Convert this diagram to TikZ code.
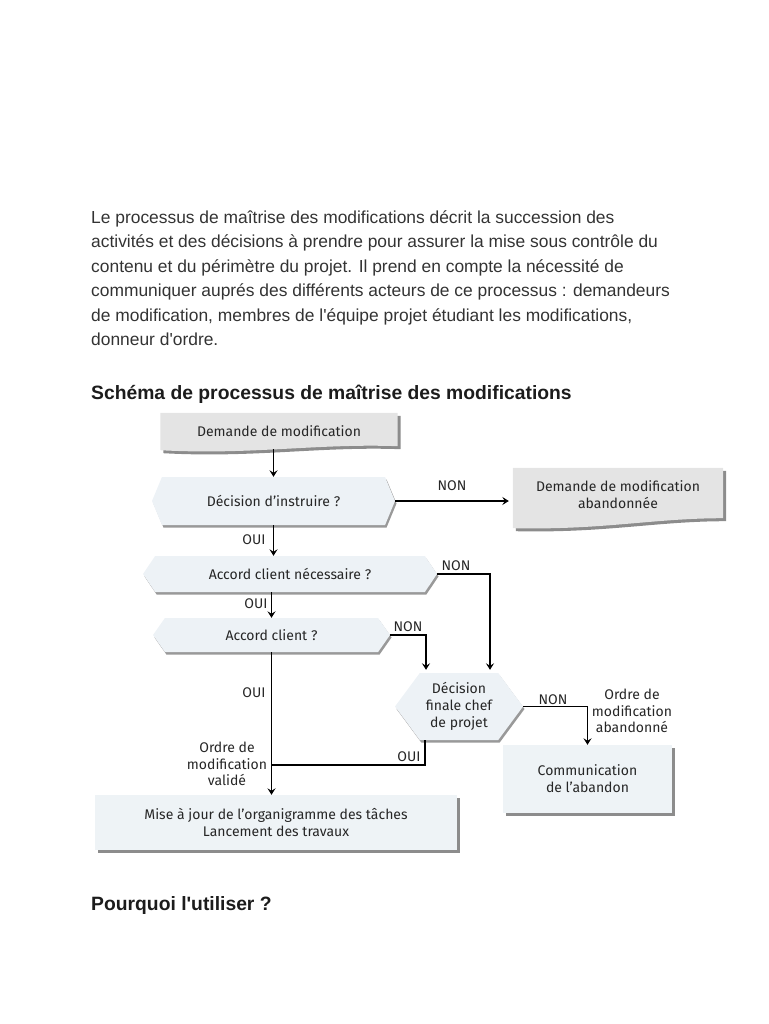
\documentclass[tikz,border=0pt]{standalone}
\usepackage{fontspec}
\setmainfont{Liberation Sans}
\newfontfamily\diag{Fira Sans}
\usetikzlibrary{shapes.symbols,shadows,arrows.meta,calc,backgrounds}
\definecolor{bodytxt}{HTML}{333333}
\definecolor{headtxt}{HTML}{1C1C1C}
\definecolor{dtxt}{HTML}{262626}
\definecolor{hexfill}{HTML}{EDF2F6}
\definecolor{boxfill}{HTML}{EEF3F6}
\definecolor{docfill}{HTML}{E4E4E4}
\begin{document}
\begin{tikzpicture}[x=1pt,y=-1pt,
  bodyline/.style={anchor=base west, inner sep=0pt, text=bodytxt, font=\fontsize{17.4}{24.5}\selectfont},
  headline/.style={anchor=base west, inner sep=0pt, text=headtxt, font=\bfseries\fontsize{19.3}{23}\selectfont},
  dfont/.style={font=\diag\fontsize{14}{16.8}\selectfont, text=dtxt},
  shade/.style={drop shadow={shadow xshift=1.5pt, shadow yshift=-2.5pt, fill=black, opacity=0.4}},
  hexa/.style={shape=signal, signal to=east and west, fill=hexfill, draw=none, inner sep=0pt, dfont, align=center, shade},
  flatbox/.style={shape=rectangle, fill=boxfill, draw=none, inner sep=0pt, dfont, align=center,
     drop shadow={shadow xshift=3pt, shadow yshift=-3pt, fill=black, opacity=0.45}},
  docbox/.style={shape=rectangle, draw=none, inner sep=0pt, dfont, align=center},
  docshade/.style={drop shadow={shadow xshift=3pt, shadow yshift=-3pt, fill=black, opacity=0.45}},
  lbl/.style={inner sep=0pt, dfont, align=center},
  arr/.style={line width=1.9pt, -{Stealth[length=6.5pt, width=8pt, inset=2.5pt]}},
  plain/.style={line width=1.9pt}
]
\useasboundingbox (0,0) rectangle (768,1024);

% body text
\node[bodyline] (p1) at (91,223) {Le processus de maîtrise des modifications décrit la succession des};
\node[bodyline] (p2) at (91,247.5) {activités et des décisions à prendre pour assurer la mise sous contrôle du};
\node[bodyline] (p3) at (91,272) {contenu et du périmètre du projet. Il prend en compte la nécessité de};
\node[bodyline] (p4) at (91,296.5) {communiquer auprés des différents acteurs de ce processus : demandeurs};
\node[bodyline] (p5) at (91,321) {de modification, membres de l\textquotesingle équipe projet étudiant les modifications,};
\node[bodyline] (p6) at (91,345.5) {donneur d\textquotesingle ordre.};
\node[headline] (h1) at (91,399) {Schéma de processus de maîtrise des modifications};
\node[headline] (h2) at (91,910) {Pourquoi l\textquotesingle utiliser ?};

% diagram nodes
\node[docbox, minimum width=237pt, minimum height=36pt] (dm) at (279,431) {Demande de modification};
\node[docbox, minimum width=210pt, minimum height=54pt] (ab) at (618,495) {Demande de modification\\abandonnée};
\node[hexa, minimum width=243pt, minimum height=48pt, signal pointer angle=135] (di) at (273.5,501) {Décision d’instruire ?};
\node[hexa, minimum width=294pt, minimum height=36pt, signal pointer angle=112] (acn) at (290,574) {Accord client nécessaire ?};
\node[hexa, minimum width=237pt, minimum height=34pt, signal pointer angle=110] (ac) at (271.5,635) {Accord client ?};
\node[hexa, minimum width=128pt, minimum height=67pt, signal pointer angle=107] (dfc) at (459,706.5) {Décision\\finale chef\\de projet};
\node[flatbox, minimum width=169pt, minimum height=68pt] (com) at (587.5,779) {Communication\\de l’abandon};
\node[flatbox, minimum width=362pt, minimum height=55pt] (mj) at (276,822.5) {Mise à jour de l’organigramme des tâches\\Lancement des travaux};

% document shapes (wavy bottom)
\begin{scope}[on background layer]
\path[fill=docfill, docshade] (dm.north west) -- (dm.north east) -- ($(dm.south east)+(0,-3)$)
  .. controls ($(dm.south east)+(-80,-6)$) and ($(dm.south west)+(90,6)$) .. ($(dm.south west)+(0,1)$) -- cycle;
\path[fill=docfill, docshade] (ab.north west) -- (ab.north east) -- ($(ab.south east)+(0,-4)$)
  .. controls ($(ab.south east)+(-70,-4)$) and ($(ab.south west)+(90,8)$) .. ($(ab.south west)+(0,6)$) -- cycle;
\end{scope}

% connectors
\coordinate (join) at (272,765);
\draw[arr] (di.north |- dm.south) -- (di.north);
\draw[arr, shorten >=4pt] (di.east) -- (di.east -| ab.west);
\draw[arr] (di.south) -- (di.south |- acn.north);
\draw[arr] (ac.north |- acn.south) -- (ac.north);
\draw[arr, shorten >=3pt] (acn.east) -| ($(dfc.north)+(31,0)$);
\draw[arr, shorten >=3pt] (ac.east) -| ($(dfc.north)+(-33,0)$);
\draw[arr] (ac.south) -- (ac.south |- mj.north);
\draw[arr] (dfc.east) -| (com.north);
\draw[plain] ($(dfc.south)+(-34,0)$) |- (join);

% labels
\node[lbl] (l1) at (452,486) {NON};
\node[lbl] (l2) at (254,540) {OUI};
\node[lbl] (l3) at (456,566) {NON};
\node[lbl] (l4) at (256,604) {OUI};
\node[lbl] (l5) at (408,627) {NON};
\node[lbl] (l6) at (254,693) {OUI};
\node[lbl] (l7) at (227,764) {Ordre de\\modification\\validé};
\node[lbl] (l8) at (553,700) {NON};
\node[lbl] (l9) at (632,711) {Ordre de\\modification\\abandonné};
\node[lbl] (l10) at (409,757) {OUI};
\end{tikzpicture}
\end{document}
